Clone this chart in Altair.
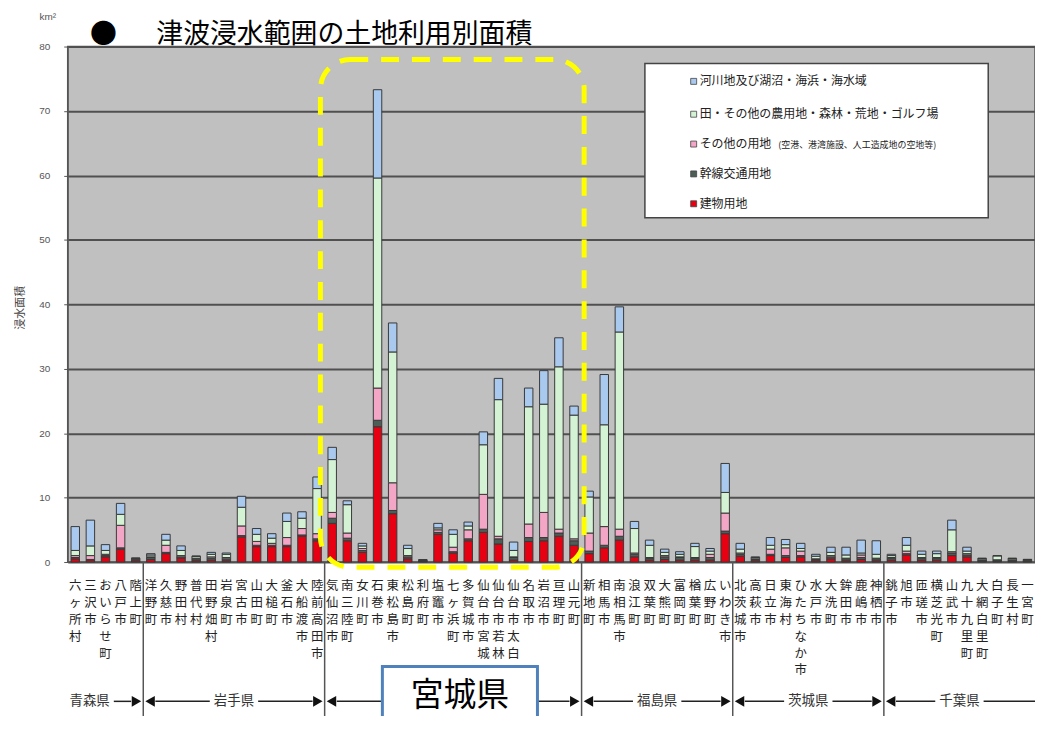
import altair as alt
import pandas as pd

JP = "Noto Sans CJK JP"

# ---------------- data ----------------
munis = ["六ヶ所村", "三沢市", "おいらせ町", "八戸市", "階上町",
         "洋野町", "久慈市", "野田村", "普代村", "田野畑村", "岩泉町", "宮古市", "山田町", "大槌町", "釜石市", "大船渡市", "陸前高田市",
         "気仙沼市", "南三陸町", "女川町", "石巻市", "東松島市", "松島町", "利府町", "塩竈市", "七ヶ浜町", "多賀城市",
         "仙台市宮城", "仙台市若林", "仙台市太白", "名取市", "岩沼市", "亘理町", "山元町",
         "新地町", "相馬市", "南相馬市", "浪江町", "双葉町", "大熊町", "富岡町", "楢葉町", "広野町", "いわき市",
         "北茨城市", "高萩市", "日立市", "東海村", "ひたちなか市", "水戸市", "大洗町", "鉾田市", "鹿嶋市", "神栖市",
         "銚子市", "旭市", "匝瑳市", "横芝光町", "山武市", "九十九里町", "大網白里町", "白子町", "長生村", "一宮町"]

prefs = ["青森県", "岩手県", "宮城県", "福島県", "茨城県", "千葉県"]
pref_counts = [5, 12, 17, 10, 10, 10]

series = ["建物用地", "幹線交通用地", "その他の用地",
          "田・その他の農用地・森林・荒地・ゴルフ場", "河川地及び湖沼・海浜・海水域"]

building = [0.5, 0.3, 0.8, 2.0, 0.2,
            0.4, 1.3, 0.6, 0.2, 0.3, 0.2, 3.9, 2.4, 2.4, 2.4, 4.0, 3.3,
            6.0, 3.3, 1.5, 21.0, 7.5, 0.5, 0.1, 4.3, 1.4, 3.3, 4.6, 2.8, 0.3, 3.2, 3.3, 4.0, 2.6,
            1.3, 2.2, 3.4, 0.8, 0.3, 0.4, 0.3, 0.3, 0.3, 4.4,
            0.9, 0.2, 1.0, 0.7, 0.8, 0.2, 0.5, 0.2, 0.4, 0.2,
            0.3, 1.1, 0.3, 0.3, 1.0, 0.8, 0.1, 0.1, 0.1, 0.1]
transport = [0.2, 0.1, 0.2, 0.2, 0.2,
             0.3, 0.2, 0.2, 0.3, 0.3, 0.3, 0.2, 0.2, 0.2, 0.2, 0.2, 0.3,
             0.8, 0.4, 0.3, 1.0, 0.5, 0.3, 0.1, 0.3, 0.2, 0.3, 0.5, 0.8, 0.4, 0.6, 0.5, 0.5, 0.7,
             0.4, 0.4, 0.6, 0.4, 0.3, 0.4, 0.4, 0.3, 0.4, 0.4,
             0.3, 0.2, 0.2, 0.3, 0.2, 0.2, 0.3, 0.3, 0.3, 0.3,
             0.3, 0.2, 0.3, 0.3, 0.4, 0.3, 0.2, 0.2, 0.2, 0.15]
other = [0.3, 0.6, 0.2, 3.5, 0.05,
         0.1, 1.1, 0.2, 0.1, 0.2, 0.2, 1.5, 0.6, 0.3, 1.2, 1.0, 0.8,
         0.9, 0.8, 0.3, 5.0, 4.3, 0.2, 0.05, 0.4, 0.7, 1.4, 5.4, 0.4, 0.1, 2.1, 3.9, 0.6, 0.3,
         2.8, 2.9, 1.1, 0.2, 0.1, 0.2, 0.1, 0.1, 0.5, 2.8,
         0.2, 0.1, 0.8, 1.2, 0.7, 0.1, 0.2, 0.1, 0.4, 0.1,
         0.1, 0.4, 0.1, 0.1, 0.2, 0.2, 0.05, 0.05, 0.05, 0.05]
farm = [0.8, 1.5, 0.6, 1.7, 0.15,
        0.3, 0.8, 0.8, 0.3, 0.4, 0.5, 2.9, 1.1, 0.8, 2.5, 1.6, 7.0,
        8.2, 4.4, 0.4, 32.6, 20.3, 1.1, 0.1, 0.3, 2.0, 0.6, 7.7, 21.2, 1.0, 18.2, 16.8, 25.2, 19.2,
        5.6, 15.8, 30.6, 3.8, 1.9, 0.5, 0.4, 1.7, 0.5, 3.2,
        0.6, 0.2, 0.6, 0.5, 0.4, 0.4, 0.5, 0.5, 0.3, 0.6,
        0.3, 0.9, 0.5, 0.6, 3.4, 0.4, 0.2, 0.6, 0.2, 0.1]
river = [3.7, 4.0, 0.9, 1.7, 0.0,
         0.2, 0.9, 0.7, 0.0, 0.3, 0.2, 1.7, 0.9, 0.7, 1.3, 1.0, 1.8,
         1.9, 0.6, 0.4, 13.7, 4.5, 0.5, 0.0, 0.7, 0.7, 0.6, 2.0, 3.3, 1.3, 2.9, 5.2, 4.5, 1.4,
         0.9, 7.8, 3.9, 1.1, 0.8, 0.5, 0.4, 0.5, 0.4, 4.5,
         0.9, 0.1, 1.2, 0.8, 0.8, 0.3, 0.8, 1.2, 2.0, 2.1,
         0.2, 1.2, 0.5, 0.4, 1.5, 0.6, 0.05, 0.05, 0.05, 0.0]

colors = ["#e60012", "#4d5e57", "#f4a6c6", "#d4f3d4", "#a9c9ee"]

# ---------------- tables ----------------
rows = []
for i, m in enumerate(munis):
    for k, vals in enumerate([building, transport, other, farm, river]):
        rows.append({"i": i, "muni": m, "series": series[k], "order": k, "value": vals[i]})
df = pd.DataFrame(rows)

N = len(munis)
xscale = alt.Scale(domain=[0, N], nice=False, zero=False)
yscale = alt.Scale(domain=[0, 80], nice=False)

yaxis = alt.Axis(values=list(range(0, 81, 10)), grid=True, gridColor="#505050", gridWidth=2,
                 domainColor="#555555", tickColor="#555555", tickSize=4,
                 labelFont="Liberation Sans", labelFontSize=10, labelColor="#555555", labelPadding=14,
                 title="浸水面積", titleFont=JP, titleFontSize=11, titleFontWeight="normal",
                 titleColor="#444444", titleX=-47, titleY=262, titleAlign="center", titleBaseline="middle")

bars = alt.Chart(df).transform_calculate(
    xl="datum.i + 0.22", xr="datum.i + 0.78"
).transform_stack(
    stack="value", groupby=["i"], as_=["y0", "y1"], sort=[alt.SortField("order", "ascending")]
).mark_rect(stroke="#383838", strokeWidth=1).encode(
    x=alt.X("xl:Q", scale=xscale, axis=None),
    x2="xr:Q",
    y=alt.Y("y0:Q", scale=yscale, axis=yaxis),
    y2="y1:Q",
    color=alt.Color("series:N", scale=alt.Scale(domain=series, range=colors), legend=None),
)

one = pd.DataFrame({"k": [0]})

# yellow dashed highlight around Miyagi
ybox = alt.Chart(pd.DataFrame({"xa": [16.72], "xb": [34.17], "y0": [-0.8], "y1": [78.0]})).mark_rect(
    filled=False, stroke="#ffff00", strokeWidth=5, strokeDash=[18, 13], cornerRadius=30
).encode(x=alt.X("xa:Q", scale=xscale, axis=None), x2="xb:Q",
         y=alt.Y("y0:Q", scale=yscale, axis=yaxis), y2="y1:Q")

# x labels (vertical text)
labdf = pd.DataFrame({"xc": [i + 0.5 for i in range(N)], "lab": ["\n".join(m) for m in munis]})
xlabels = alt.Chart(labdf).mark_text(
    baseline="top", align="center", lineBreak="\n", fontSize=12.5, lineHeight=17, font=JP, color="#222222"
).encode(x=alt.X("xc:Q", scale=xscale, axis=None), y=alt.value(536), text="lab:N")

# prefecture dividers
acc = 0
starts, ends = [], []
for c in pref_counts:
    starts.append(acc)
    acc += c
    ends.append(acc)
bounds = ends[:-1]
dividers = alt.Chart(pd.DataFrame({"xb": bounds})).mark_rule(color="#555555", strokeWidth=1.5).encode(
    x=alt.X("xb:Q", scale=xscale, axis=None), y=alt.value(518), y2=alt.value(680))

# prefecture arrow row
centers = [(s + e) / 2 for s, e in zip(starts, ends)]
centers[0] = starts[0] + 1.45
centers[2] = centers[2] + 0.45
halfw = [1.6, 1.6, 5.13, 1.6, 1.6, 1.6]
segs = []
for k in range(len(prefs)):
    s, e, c, h = starts[k], ends[k], centers[k], halfw[k]
    if k > 0:
        segs.append({"xa": s + 0.8, "xb": c - h})
    segs.append({"xa": c + h, "xb": (e - 0.8) if k < len(prefs) - 1 else e})
arrow_lines = alt.Chart(pd.DataFrame(segs)).mark_rule(color="#222222", strokeWidth=1.5).encode(
    x=alt.X("xa:Q", scale=xscale, axis=None), x2="xb:Q", y=alt.value(658))

heads = []
for b in bounds:
    heads.append({"x": b - 0.45, "shape": "triangle-right"})
    heads.append({"x": b + 0.45, "shape": "triangle-left"})
arrow_heads = alt.Chart(pd.DataFrame(heads)).mark_point(filled=True, size=120, color="#111111", opacity=1).encode(
    x=alt.X("x:Q", scale=xscale, axis=None), y=alt.value(658),
    shape=alt.Shape("shape:N", scale=alt.Scale(domain=["triangle-right", "triangle-left"],
                                               range=["triangle-right", "triangle-left"]), legend=None))

plab = pd.DataFrame({"x": [c for k, c in enumerate(centers) if k != 2],
                     "name": [p for k, p in enumerate(prefs) if k != 2]})
pref_text = alt.Chart(plab).mark_text(fontSize=13.5, font=JP, color="#333333", baseline="middle", align="center").encode(
    x=alt.X("x:Q", scale=xscale, axis=None), y=alt.value(658), text="name:N")

mbox = alt.Chart(pd.DataFrame({"xa": [centers[2] - halfw[2]], "xb": [centers[2] + halfw[2]]})).mark_rect(
    fill="white", stroke="#4f81bd", strokeWidth=3).encode(
    x=alt.X("xa:Q", scale=xscale, axis=None), x2="xb:Q", y=alt.value(623), y2=alt.value(720))
mtext = alt.Chart(pd.DataFrame({"x": [centers[2]], "name": [prefs[2]]})).mark_text(
    fontSize=33, font=JP, color="black", baseline="middle", align="center").encode(
    x=alt.X("x:Q", scale=xscale, axis=None), y=alt.value(653), text="name:N")

# title and unit
title_dot = alt.Chart(one).mark_text(text="●", fontSize=27, font=JP, align="center", baseline="alphabetic",
                                     color="black").encode(x=alt.value(36), y=alt.value(-4))
title_txt = alt.Chart(one).mark_text(text="津波浸水範囲の土地利用別面積", fontSize=27, font=JP, align="left",
                                     baseline="alphabetic", color="black").encode(x=alt.value(89), y=alt.value(-4))
unit = alt.Chart(one).mark_text(text="km²", fontSize=10, font="Liberation Sans", color="#555555",
                                align="center", baseline="middle").encode(x=alt.value(-20), y=alt.value(-30))

# legend (manual)
leg_layers = [alt.Chart(one).mark_rect(fill="white", stroke="#444444", strokeWidth=1.5).encode(
    x=alt.value(580), x2=alt.value(925), y=alt.value(17), y2=alt.value(172))]
leg_rows = [35, 68, 98, 128, 158]
for r, k in enumerate([4, 3, 2, 1, 0]):
    yy = leg_rows[r]
    leg_layers.append(alt.Chart(one).mark_square(size=36, fill=colors[k], stroke="#444444", strokeWidth=0.8,
                                                 opacity=1).encode(x=alt.value(629), y=alt.value(yy)))
    leg_layers.append(alt.Chart(one).mark_text(text=series[k], align="left", baseline="middle", fontSize=12,
                                               font=JP, color="#222222").encode(x=alt.value(635), y=alt.value(yy)))
leg_layers.append(alt.Chart(one).mark_text(text="(空港、港湾施設、人工造成地の空地等)", align="left", baseline="middle",
                                           fontSize=9, font=JP, color="#222222").encode(x=alt.value(714), y=alt.value(99)))

chart = alt.layer(
    bars, ybox, xlabels, dividers, arrow_lines, arrow_heads, pref_text, mbox, mtext,
    title_dot, title_txt, unit, *leg_layers
).properties(
    width=972, height=518,
    padding={"left": 60, "top": 37, "right": 0, "bottom": 153},
    autosize=alt.AutoSizeParams(type="none"),
).configure(background="white").configure_view(fill="#c0c0c0", stroke="#555555", strokeWidth=1.5)

chart.save("out.html", embed_options={"renderer": "svg", "actions": False})
